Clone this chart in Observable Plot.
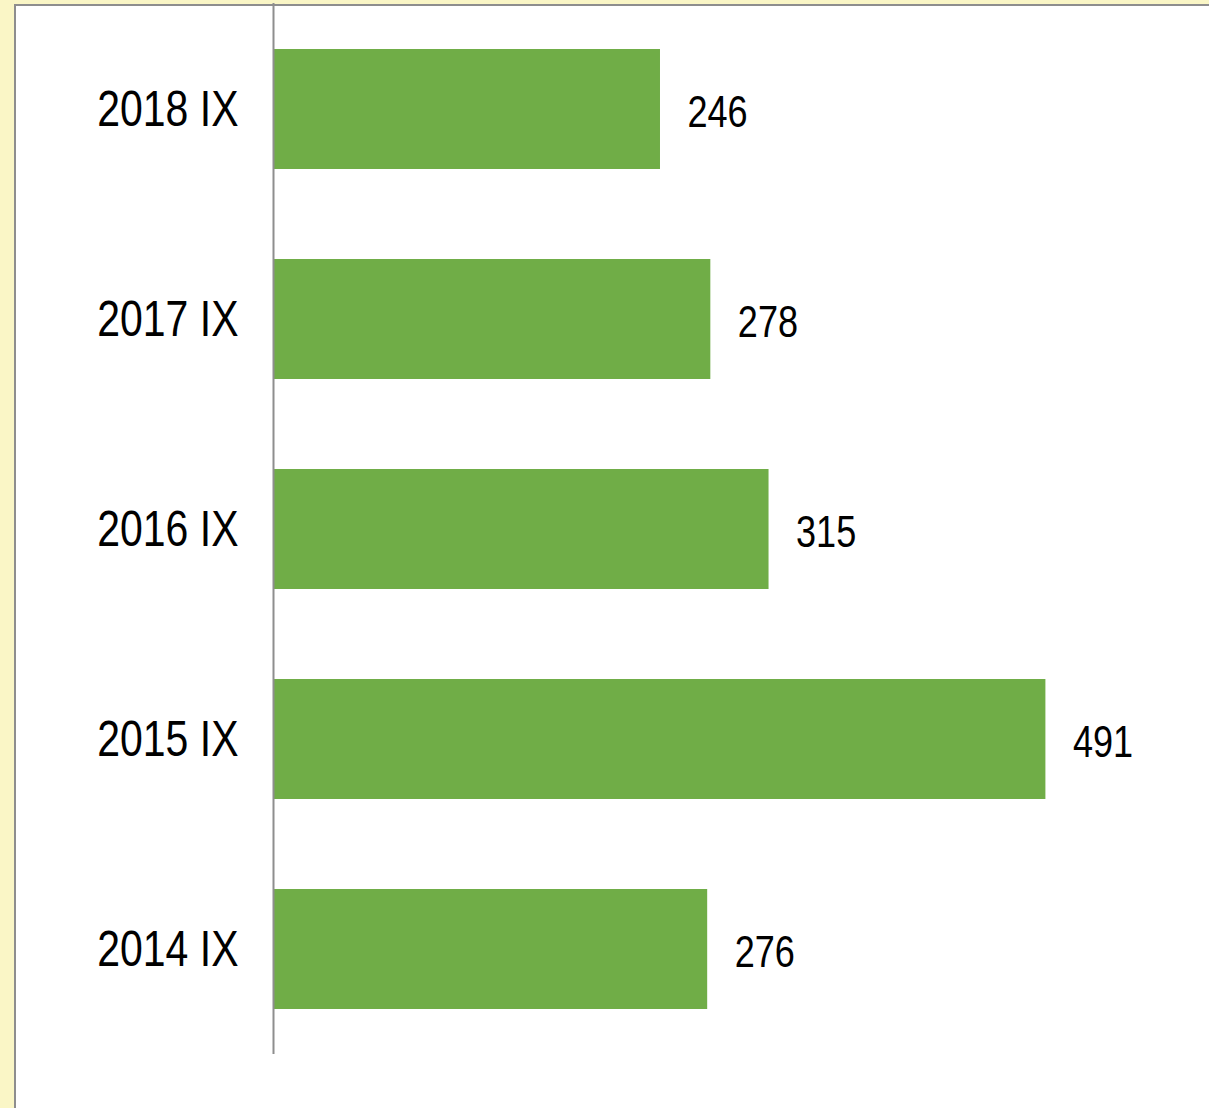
<!DOCTYPE html>
<html>
<head>
<meta charset="utf-8">
<script src="https://cdn.jsdelivr.net/npm/d3@7"></script>
<script src="https://cdn.jsdelivr.net/npm/@observablehq/plot@0.6"></script>
<style>
  html, body { margin: 0; padding: 0; }
  body { width: 1209px; height: 1108px; background: #faf6c6; position: relative; overflow: hidden; }
  #panel { position: absolute; left: 14px; top: 4px; right: -4px; bottom: -4px; background: #ffffff;
           border-left: 2px solid #8e8e8e; border-top: 2px solid #8e8e8e; }
  #chart { position: absolute; left: 0; top: 0; }
  #chart svg { background: transparent; }
</style>
</head>
<body>
<div id="panel"></div>
<div id="chart"></div>
<script>
const categories = ["2018 IX", "2017 IX", "2016 IX", "2015 IX", "2014 IX"];
const values = [246, 278, 315, 491, 276];

const data = categories.map((c, i) => ({ category: c, value: values[i] }));
const font = "'Liberation Sans', Arial, sans-serif";

const chart = Plot.plot({
  width: 1209,
  height: 1108,
  marginLeft: 273,
  marginRight: 0,
  marginTop: 3,
  marginBottom: 54,
  style: { background: "transparent", fontFamily: font, color: "#000" },
  x: { domain: [0, 595], axis: null },
  y: { domain: categories, paddingInner: 0.4286, paddingOuter: 0.2143, label: null },
  marks: [
    Plot.barX(data, { x: "value", y: "category", fill: "#70ad47" }),
    Plot.axisY({ tickSize: 0, tickPadding: 35, fontSize: 50, label: null, fill: "#000", fontFamily: font }),
    Plot.ruleX([0], { stroke: "#8e8e8e", strokeWidth: 2, strokeOpacity: 1 }),
    Plot.text(data, { x: "value", y: "category", text: d => String(d.value), dx: 27, dy: 3,
                      textAnchor: "start", fontSize: 44, fill: "#000", fontFamily: font })
  ]
});
document.getElementById("chart").appendChild(chart);

// Emulate a narrow typeface (Arial Narrow) by horizontally condensing each label around its anchor.
chart.querySelectorAll("text").forEach(t => {
  const tr = t.getAttribute("transform") || "";
  t.setAttribute("transform", (tr + " scale(0.82,1)").trim());
});
</script>
</body>
</html>
